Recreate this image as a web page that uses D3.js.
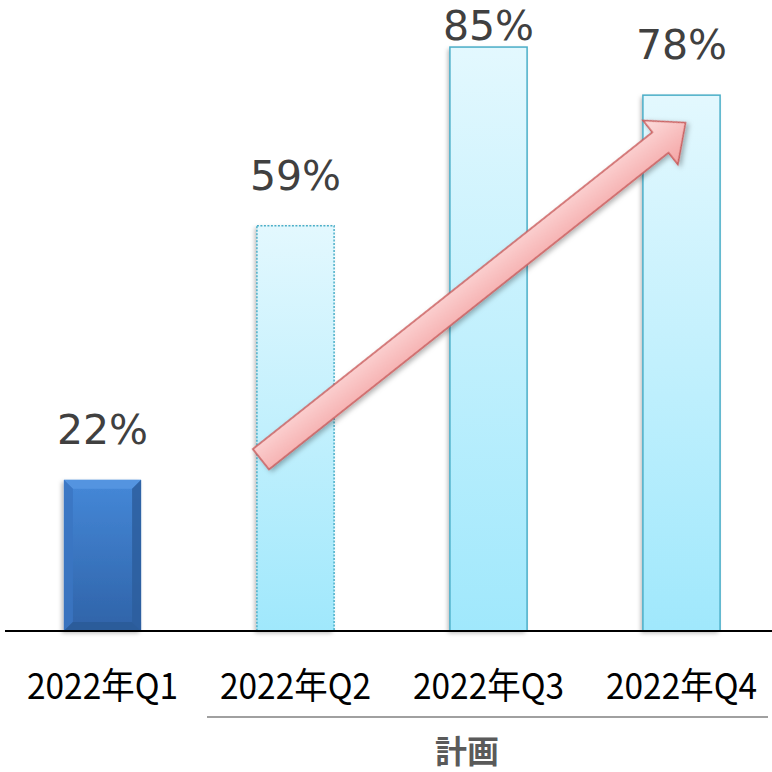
<!DOCTYPE html>
<html>
<head>
<meta charset="utf-8">
<script src="https://cdn.jsdelivr.net/npm/d3@7"></script>
<style>
  html, body { margin: 0; padding: 0; background: #fff; }
  svg { display: block; }
</style>
</head>
<body>
<svg id="chart" width="772" height="772"></svg>
<script>
// Quarterly rates (Q1 actual, Q2–Q4 plan)
const categories = ["2022年Q1", "2022年Q2", "2022年Q3", "2022年Q4"];
const values = [22, 59, 85, 78];
const planned = [false, true, true, true];
const groupLabel = "計画";

const W = 772, H = 772;
const baseY = 631;
const svg = d3.select("#chart");

const x = d3.scaleBand().domain(categories).range([6, 778]).paddingInner(0.6).paddingOuter(0.3);
const y = d3.scaleLinear().domain([0, 91.85]).range([baseY, 0]);

const defs = svg.append("defs");

// soft drop shadow
const sh = defs.append("filter").attr("id", "shadow").attr("x", "-20%").attr("y", "-20%").attr("width", "140%").attr("height", "140%");
sh.append("feDropShadow").attr("dx", -2).attr("dy", 2).attr("stdDeviation", 2).attr("flood-color", "#000").attr("flood-opacity", 0.28);

const ash = defs.append("filter").attr("id", "ashadow").attr("x", "-20%").attr("y", "-20%").attr("width", "140%").attr("height", "140%");
ash.append("feDropShadow").attr("dx", 1).attr("dy", 3).attr("stdDeviation", 2.5).attr("flood-color", "#000").attr("flood-opacity", 0.3);

// light cyan fill for planned bars
const cg = defs.append("linearGradient").attr("id", "cyan").attr("x1", 0).attr("y1", 0).attr("x2", 0).attr("y2", 1);
cg.append("stop").attr("offset", "0%").attr("stop-color", "#e3f8fe");
cg.append("stop").attr("offset", "100%").attr("stop-color", "#a0e8fc");

// blue fill for actual bar
const bg = defs.append("linearGradient").attr("id", "blue").attr("x1", 0).attr("y1", 0).attr("x2", 0).attr("y2", 1);
bg.append("stop").attr("offset", "0%").attr("stop-color", "#4588d8");
bg.append("stop").attr("offset", "100%").attr("stop-color", "#2f63a8");

// arrow fill
const ag = defs.append("linearGradient").attr("id", "pink").attr("x1", 0).attr("y1", 0).attr("x2", 0).attr("y2", 1);
ag.append("stop").attr("offset", "0%").attr("stop-color", "#fddede");
ag.append("stop").attr("offset", "100%").attr("stop-color", "#f4a4a4");

const bw = x.bandwidth();

// bars
categories.forEach((c, i) => {
  const x0 = x(c), y0 = y(values[i]), h = baseY - y0;
  const g = svg.append("g");
  if (!planned[i]) {
    g.append("rect").attr("x", x0).attr("y", y0).attr("width", bw).attr("height", h)
      .attr("fill", "url(#blue)").attr("filter", "url(#shadow)");
    const b = 9;
    // bevel faces
    g.append("polygon").attr("points", [[x0, y0], [x0 + bw, y0], [x0 + bw - b, y0 + b], [x0 + b, y0 + b]].join(" "))
      .attr("fill", "#5797e2").attr("opacity", 0.85);
    g.append("polygon").attr("points", [[x0, y0], [x0 + b, y0 + b], [x0 + b, baseY - b], [x0, baseY]].join(" "))
      .attr("fill", "#3b76c2").attr("opacity", 0.85);
    g.append("polygon").attr("points", [[x0 + bw, y0], [x0 + bw - b, y0 + b], [x0 + bw - b, baseY - b], [x0 + bw, baseY]].join(" "))
      .attr("fill", "#2d5e9e").attr("opacity", 0.85);
    g.append("polygon").attr("points", [[x0, baseY], [x0 + b, baseY - b], [x0 + bw - b, baseY - b], [x0 + bw, baseY]].join(" "))
      .attr("fill", "#2a5a98").attr("opacity", 0.85);
  } else {
    g.append("rect").attr("x", x0).attr("y", y0).attr("width", bw).attr("height", h)
      .attr("fill", "url(#cyan)").attr("filter", "url(#shadow)");
    g.append("rect").attr("x", x0).attr("y", y0).attr("width", bw).attr("height", h)
      .attr("fill", "none").attr("stroke", "#4aaec8").attr("stroke-width", 1.5)
      .attr("stroke-dasharray", i === 1 ? "2,1.5" : null);
  }
});

// value labels
categories.forEach((c, i) => {
  const by = Math.max(y(values[i]) - 36, 40);
  svg.append("text").attr("x", x(c) + bw / 2).attr("y", by)
    .attr("text-anchor", "middle").attr("font-family", "DejaVu Sans, Verdana, sans-serif")
    .attr("font-size", 41).attr("fill", "#404040").text(values[i] + "%");
});

// trend arrow from Q2 to Q4
(function () {
  const sx = x(categories[1]) + 4, sy = y(25);
  const ex = x(categories[3]) + bw / 2 + 4, ey = y(74);
  const dx = ex - sx, dy = ey - sy, L = Math.hypot(dx, dy);
  const ang = Math.atan2(dy, dx) * 180 / Math.PI;
  const sw = 13, hw = 28, hl = 32;
  const pts = [[0, -sw], [L - hl, -sw], [L - hl, -hw], [L, 0], [L - hl, hw], [L - hl, sw], [0, sw]];
  svg.append("g").attr("transform", `translate(${sx},${sy}) rotate(${ang})`)
    .append("polygon").attr("points", pts.join(" "))
    .attr("fill", "url(#pink)").attr("stroke", "#c95a5a").attr("stroke-width", 1.5)
    .attr("stroke-linejoin", "miter").attr("filter", "url(#ashadow)");
})();

// baseline
svg.append("line").attr("x1", 5).attr("x2", W).attr("y1", baseY).attr("y2", baseY)
  .attr("stroke", "#000").attr("stroke-width", 2);

// category labels
categories.forEach(c => {
  svg.append("text").attr("x", x(c) + bw / 2).attr("y", 699)
    .attr("text-anchor", "middle").attr("font-family", "Noto Sans CJK JP, sans-serif")
    .attr("font-size", 36).attr("fill", "#000")
    .attr("textLength", 151).attr("lengthAdjust", "spacingAndGlyphs").text(c);
});

// plan bracket
svg.append("line").attr("x1", 207).attr("x2", 768).attr("y1", 717).attr("y2", 717)
  .attr("stroke", "#808080").attr("stroke-width", 1.5);
svg.append("text").attr("x", 467).attr("y", 763)
  .attr("text-anchor", "middle").attr("font-family", "Noto Sans CJK JP, sans-serif")
  .attr("font-weight", "bold").attr("font-size", 32).attr("fill", "#5a5a5a").text(groupLabel);
</script>
</body>
</html>
